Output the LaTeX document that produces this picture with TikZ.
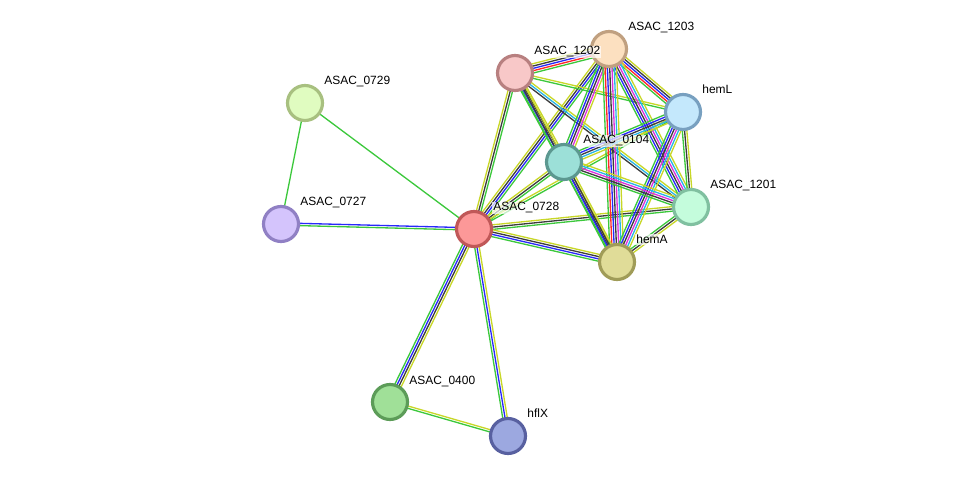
\documentclass[tikz,border=0pt]{standalone}
\usepackage{fontspec}
\setmainfont{Liberation Sans}
\usepackage{tikz}
\usetikzlibrary{calc, backgrounds}

\definecolor{nbh}{RGB}{60,200,60}
\definecolor{fus}{RGB}{255,40,40}
\definecolor{coo}{RGB}{40,40,250}
\definecolor{cox}{RGB}{60,60,60}
\definecolor{expm}{RGB}{220,50,220}
\definecolor{dbc}{RGB}{40,180,230}
\definecolor{txt}{RGB}{200,215,40}

% one multi-coloured edge: #1, #2 nodes, #3 colours
\newcommand\stredge[3]{%
  \foreach \c [count=\k] in {#3} {\xdef\nlines{\k}}%
  \foreach \c [count=\k] in {#3} {%
    \pgfmathsetmacro\off{(\k-(\nlines+1)/2)*1.3}%
    \draw[\c, edgeline] ($(#1)!\off pt!90:(#2)$) -- ($(#2)!\off pt!-90:(#1)$);
  }}

\begin{document}
\begin{tikzpicture}[x=0.02cm, y=-0.02cm,
  prot/.style={circle, line width=1.8pt, minimum size=0.7cm, inner sep=0pt},
  edgeline/.style={line width=0.75pt},
  lbl/.style={anchor=base west, font=\fontsize{6.8}{8}\selectfont, fill=white, fill opacity=0.7, text opacity=1, inner sep=0.6pt}]
  \useasboundingbox (0,0) rectangle (976,482);

  % proteins
  \node[prot, fill={rgb,255:red,224;green,252;blue,192}, draw={rgb,255:red,168;green,192;blue,128}] (p0729) at (305,103) {};
  \node[prot, fill={rgb,255:red,212;green,196;blue,252}, draw={rgb,255:red,144;green,128;blue,196}] (p0727) at (281,224) {};
  \node[prot, fill={rgb,255:red,252;green,152;blue,152}, draw={rgb,255:red,192;green,88;blue,88}] (p0728) at (474,229) {};
  \node[prot, fill={rgb,255:red,248;green,200;blue,200}, draw={rgb,255:red,184;green,128;blue,128}] (p1202) at (515,73) {};
  \node[prot, fill={rgb,255:red,252;green,224;blue,192}, draw={rgb,255:red,192;green,160;blue,128}] (p1203) at (609,49) {};
  \node[prot, fill={rgb,255:red,196;green,232;blue,252}, draw={rgb,255:red,120;green,160;blue,192}] (hemL) at (683,112) {};
  \node[prot, fill={rgb,255:red,156;green,224;blue,216}, draw={rgb,255:red,92;green,152;blue,144}] (p0104) at (564,162) {};
  \node[prot, fill={rgb,255:red,196;green,252;blue,220}, draw={rgb,255:red,128;green,192;blue,160}] (p1201) at (691,207) {};
  \node[prot, fill={rgb,255:red,224;green,220;blue,152}, draw={rgb,255:red,160;green,156;blue,88}] (hemA) at (617,262) {};
  \node[prot, fill={rgb,255:red,160;green,224;blue,152}, draw={rgb,255:red,92;green,156;blue,88}] (p0400) at (390,402) {};
  \node[prot, fill={rgb,255:red,156;green,168;blue,224}, draw={rgb,255:red,88;green,96;blue,160}] (hflX) at (508,436) {};

  % labels
  \foreach \p/\t in {p0729/ASAC\_0729, p0727/ASAC\_0727, p0728/ASAC\_0728, p1202/ASAC\_1202,
                     p1203/ASAC\_1203, hemL/hemL, p0104/ASAC\_0104, p1201/ASAC\_1201,
                     hemA/hemA, p0400/ASAC\_0400, hflX/hflX}
    \node[lbl] (l\p) at ($(\p)+(18,-18)$) {\t};

  % edges
  \begin{scope}[on background layer]
    \stredge{p0729}{p0727}{nbh}
    \stredge{p0729}{p0728}{nbh}
    \stredge{p0727}{p0728}{nbh,coo}
    \stredge{p0728}{p0400}{nbh,coo,cox,txt}
    \stredge{p0728}{hflX}{nbh,coo,txt}
    \stredge{p0400}{hflX}{nbh,txt}
    \stredge{p0728}{p1202}{nbh,cox,txt}
    \stredge{p0728}{p1203}{nbh,coo,cox,txt}
    \stredge{p0728}{p0104}{nbh,cox,txt}
    \stredge{p0728}{hemL}{nbh,txt}
    \stredge{p0728}{p1201}{nbh,cox,txt}
    \stredge{p0728}{hemA}{nbh,coo,cox,txt}
    \stredge{p1202}{p1203}{nbh,fus,coo,cox,txt}
    \stredge{p1202}{hemL}{nbh,txt}
    \stredge{p1202}{p0104}{nbh,coo,cox,txt}
    \stredge{p1202}{p1201}{cox,dbc,txt}
    \stredge{p1202}{hemA}{nbh,cox,txt}
    \stredge{p1203}{hemL}{nbh,fus,coo,cox,txt}
    \stredge{p1203}{p0104}{nbh,coo,cox,expm,txt}
    \stredge{p1203}{p1201}{nbh,coo,cox,expm,dbc,txt}
    \stredge{p1203}{hemA}{nbh,fus,coo,cox,expm,dbc,txt}
    \stredge{hemL}{p0104}{nbh,coo,cox,dbc,txt}
    \stredge{hemL}{p1201}{nbh,cox,txt}
    \stredge{hemL}{hemA}{nbh,coo,cox,expm,dbc,txt}
    \stredge{p0104}{p1201}{nbh,cox,expm,dbc,txt}
    \stredge{p0104}{hemA}{nbh,coo,cox,txt}
    \stredge{p1201}{hemA}{nbh,cox,txt}
  \end{scope}
\end{tikzpicture}
\end{document}
